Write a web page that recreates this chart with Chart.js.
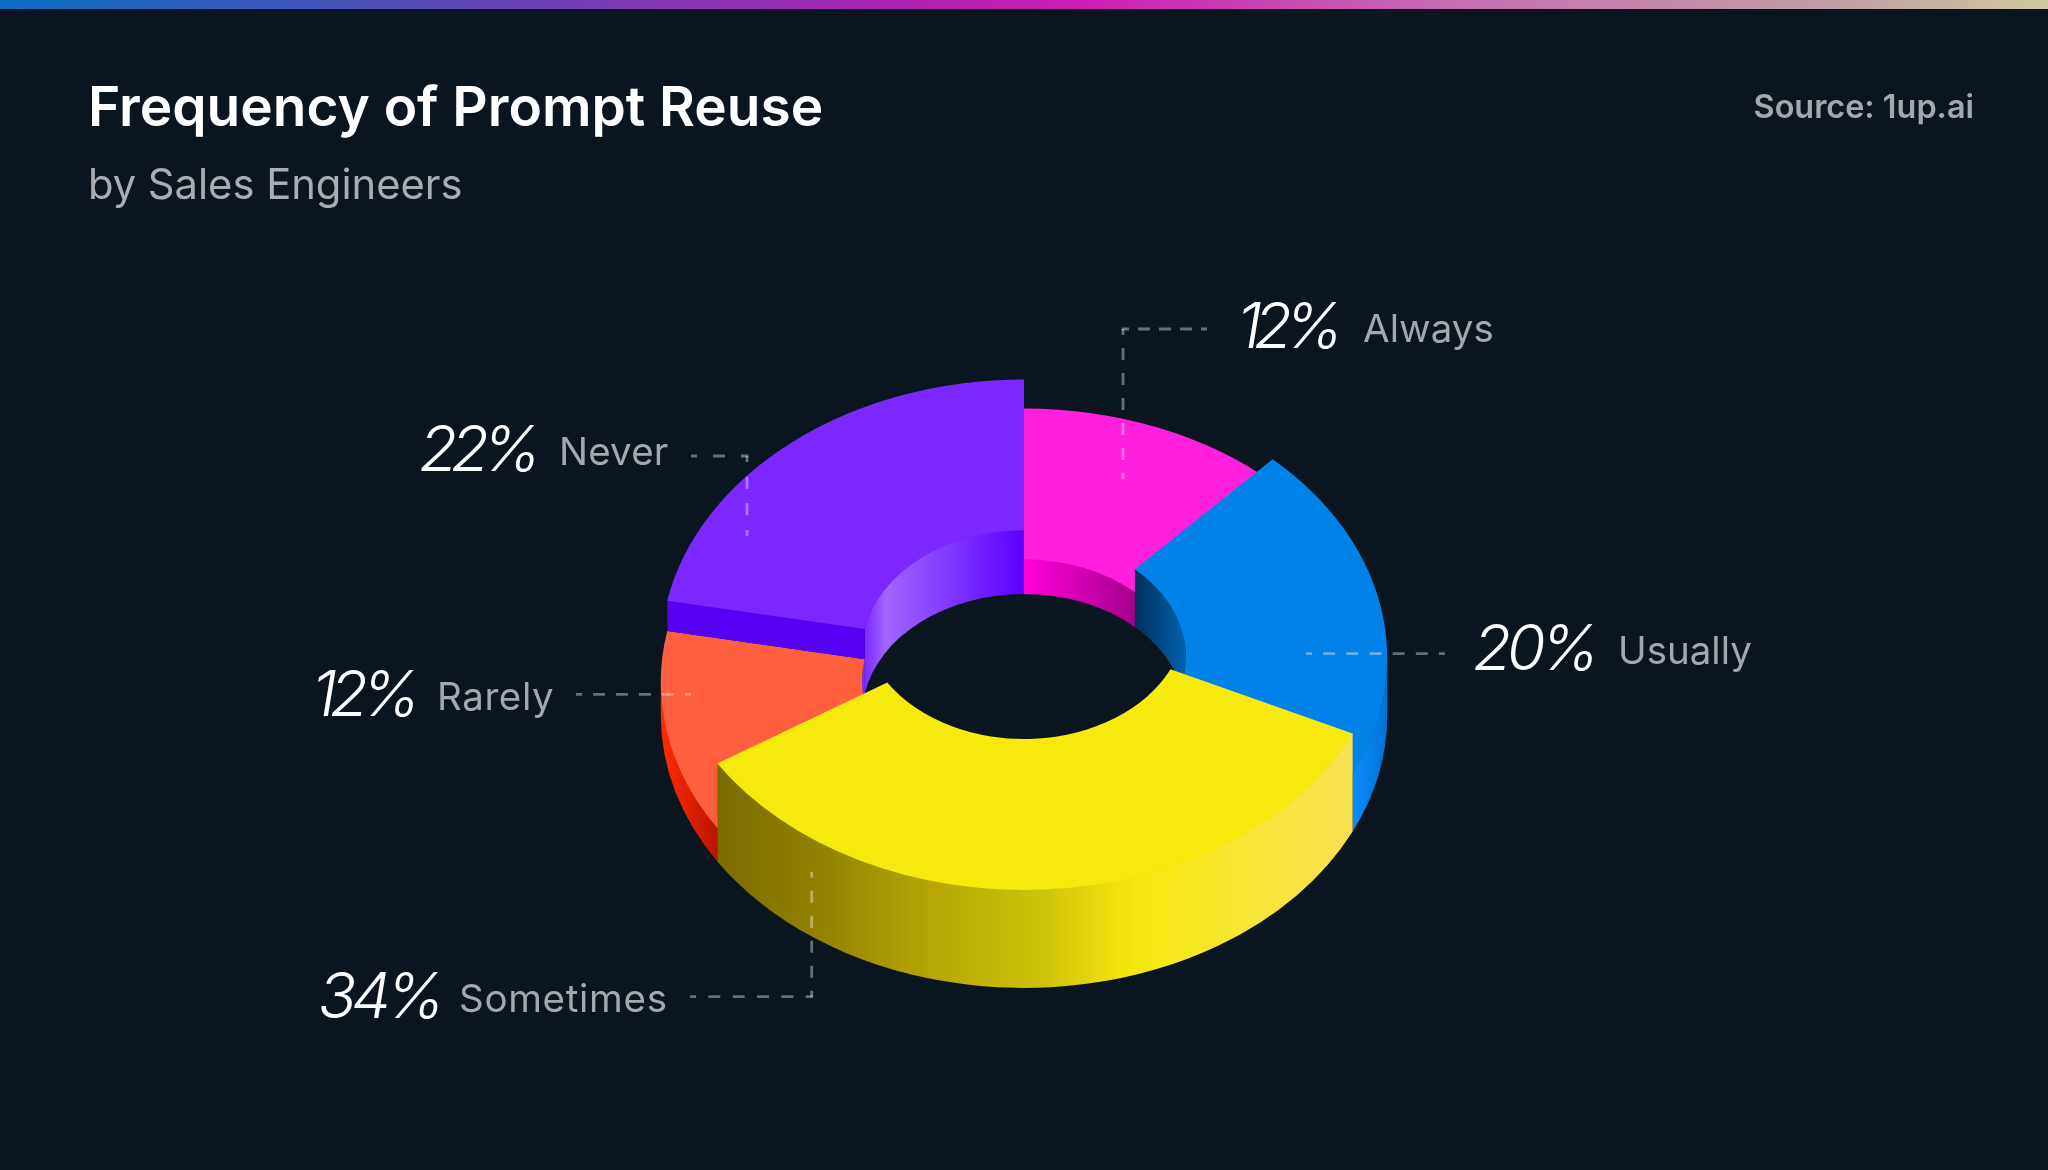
<!DOCTYPE html>
<html><head><meta charset="utf-8">
<style>html,body{margin:0;padding:0;background:#0a1520;width:2048px;height:1170px;overflow:hidden}#w{position:absolute;left:0;top:0;width:2048px;height:1170px}canvas{display:block}</style>
<script src="https://cdn.jsdelivr.net/npm/chart.js@4"></script>
</head><body><div id="w"><canvas id="c" width="2048" height="1170" style="width:2048px;height:1170px"></canvas></div>
<script>
const categories = ["Always","Usually","Sometimes","Rarely","Never"];
const shares = [12,20,34,12,22];
const titleText = "Frequency of Prompt Reuse";
const subtitleText = "by Sales Engineers";
const sourceText = "Source: 1up.ai";

const FONT = 'Inter, Lato, sans-serif';
const TILT = 0.75;
const sliceStyle = [
 {top:"#ff1fdc", lift:34.7, inner:[[0.5,"#ff00d8"],[0.655,"#a3008a"]], outer:[[0,"#f00"]], side:"#a3008a"},
 {top:"#0082e8", lift:57.7, inner:[[0.654,"#00305f"],[0.725,"#0064ae"]], outer:[[0.95,"#0a8cff"],[1,"#0074d6"]], side:"#005090"},
 {top:"#f5e90e", lift:98, inner:[[0,"#000"]], outer:[[0.08,"#7a6c00"],[0.22,"#918200"],[0.37,"#b5a605"],[0.53,"#cfc30a"],[0.63,"#f0e30e"],[0.66,"#f5e90e"],[0.81,"#f7e538"],[0.95,"#f8e150"]], side:"#7a6c00"},
 {top:"#ff5e3f", lift:33.4, inner:[[0,"#7a28ff"]], outer:[[0,"#ff2c00"],[0.08,"#b81500"]], side:"#b81500"},
 {top:"#7a28ff", lift:63.7, inner:[[0.28,"#7a28ff"],[0.31,"#a066ff"],[0.5,"#5a00ff"]], outer:[[0,"#5500f0"]], side:"#5500f0"}
];
const calloutStyle = [
 {numX:1237,track:-8,labelX:1363,labelTrack:0.1,base:342,path:[[1207,329],[1123,329],[1123,479]],periods:[4,6]},
 {numX:1473,track:-5,labelX:1618,labelTrack:0,base:664,path:[[1445,653.7],[1306,653.7]],periods:[6]},
 {numX:318,track:-5,labelX:459,labelTrack:0.7,base:1012,path:[[690,996.7],[811.7,996.7],[811.7,871.7]],periods:[5,5]},
 {numX:312,track:-7,labelX:437,labelTrack:0.6,base:710,path:[[576,694.3],[691,694.3]],periods:[5]},
 {numX:419,track:-7,labelX:559,labelTrack:0.2,base:465,path:[[691,456],[747,456],[747,536]],periods:[2,3]}
];

class Doughnut3D extends Chart.DoughnutController {
  draw(){
    const ctx=this.chart.ctx, arcs=this._cachedMeta.data, n=arcs.length;
    const order=arcs.map((_,i)=>i).sort((a,b)=>sliceStyle[a].lift-sliceStyle[b].lift);
    order.forEach(i=>this.drawSlice(ctx,arcs[i],sliceStyle[i],sliceStyle[(i+n-1)%n].lift,sliceStyle[(i+1)%n].lift));
  }
  grad(ctx,arc,stops){
    const R=arc.outerRadius, g=ctx.createLinearGradient(arc.x-R,0,arc.x+R,0);
    stops.forEach(s=>g.addColorStop(s[0],s[1])); return g;
  }
  wall(ctx,arc,r,a0,a1,h,fill){
    if(a1<=a0) return;
    const k=TILT;
    ctx.beginPath();
    ctx.ellipse(arc.x,arc.y-h-0.8,r,k*r,0,a0,a1,false);
    ctx.ellipse(arc.x,arc.y,r,k*r,0,a1,a0,true);
    ctx.closePath(); ctx.fillStyle=fill; ctx.fill();
  }
  drawSlice(ctx,arc,st,prevLift,nextLift){
    const a0=arc.startAngle,a1=arc.endAngle,h=st.lift,PI=Math.PI,k=TILT;
    const spans=[[-PI,0],[PI,2*PI]];
    spans.forEach(s=>this.wall(ctx,arc,arc.innerRadius,Math.max(a0,s[0]),Math.min(a1,s[1]),h,this.grad(ctx,arc,st.inner)));
    this.wall(ctx,arc,arc.outerRadius,Math.max(a0,0),Math.min(a1,PI),h,this.grad(ctx,arc,st.outer));
    const face=(a,low)=>{
      if(low>=h) return;
      const c=Math.cos(a),s=Math.sin(a),ri=arc.innerRadius,ro=arc.outerRadius,x=arc.x,y=arc.y;
      ctx.beginPath();
      ctx.moveTo(x+ri*c,y+k*ri*s-h-0.8);ctx.lineTo(x+ro*c,y+k*ro*s-h-0.8);
      ctx.lineTo(x+ro*c,y+k*ro*s-low);ctx.lineTo(x+ri*c,y+k*ri*s-low);ctx.closePath();
      ctx.fillStyle=st.side;ctx.fill();
    };
    if(Math.cos(a0)<0) face(a0,prevLift);
    if(Math.cos(a1)>0) face(a1,nextLift);
    ctx.save();
    ctx.translate(arc.x,arc.y-h);ctx.scale(1,k);ctx.translate(-arc.x,-arc.y);
    arc.draw(ctx);
    ctx.restore();
  }
}
Doughnut3D.id="doughnut3d";
Doughnut3D.defaults=Chart.DoughnutController.defaults;
Chart.register(Doughnut3D);

const paintPlugin={
  id:"paint",
  beforeDraw(chart){
    const ctx=chart.ctx;
    ctx.save();
    ctx.fillStyle="#0a1520";ctx.fillRect(0,0,2048,1170);
    const g=ctx.createLinearGradient(0,0,2048,0);
    g.addColorStop(0,"#0a6dc2");g.addColorStop(0.44,"#ad22b0");g.addColorStop(0.53,"#cc1db5");g.addColorStop(0.72,"#c772b0");g.addColorStop(0.9,"#bfa0a5");g.addColorStop(1,"#cfc8a0");
    ctx.fillStyle=g;ctx.fillRect(0,0,2048,9);
    ctx.textBaseline="alphabetic";
    ctx.textAlign="left";
    ctx.fillStyle="#ffffff";ctx.font="600 55px "+FONT;ctx.fillText(titleText,88,126);
    ctx.fillStyle="#a9adb2";ctx.font="400 41.7px "+FONT;ctx.fillText(subtitleText,88,199);
    ctx.textAlign="right";
    ctx.fillStyle="#a3a8ad";ctx.font="600 32.4px "+FONT;ctx.fillText(sourceText,1974,118);
    ctx.restore();
  },
  afterDatasetsDraw(chart){
    const ctx=chart.ctx;
    ctx.save();
    ctx.lineWidth=2.8;ctx.strokeStyle="rgba(255,255,255,0.38)";
    calloutStyle.forEach((c,i)=>{
      for(let j=0;j<c.periods.length;j++){
        const p=c.path[j],q=c.path[j+1],L=Math.hypot(q[0]-p[0],q[1]-p[1]),per=L/c.periods[j];
        const more=j<c.periods.length-1?1.4:0,ux=(q[0]-p[0])/L,uy=(q[1]-p[1])/L;
        ctx.setLineDash([12,per-12]);ctx.lineDashOffset=6;
        ctx.beginPath();ctx.moveTo(p[0],p[1]);ctx.lineTo(q[0]+ux*more,q[1]+uy*more);ctx.stroke();
      }
      ctx.setLineDash([]);
      ctx.textAlign="left";ctx.textBaseline="alphabetic";
      ctx.fillStyle="#ffffff";ctx.font="italic 300 63px "+FONT;ctx.letterSpacing=c.track+"px";ctx.fillText(shares[i]+"%",c.numX,c.base+6);
      ctx.letterSpacing=c.labelTrack+"px";
      ctx.fillStyle="#a3a8ad";ctx.font="400 38.5px "+FONT;ctx.fillText(categories[i],c.labelX,c.base);
      ctx.letterSpacing="0px";
    });
    ctx.restore();
  }
};

new Chart(document.getElementById("c"),{
  type:"doughnut3d",
  data:{labels:categories,datasets:[{data:shares,backgroundColor:sliceStyle.map(s=>s.top),borderWidth:0,radius:363.2,cutout:"44.6%"}]},
  options:{
    responsive:false,animation:false,events:[],
    devicePixelRatio:1,
    layout:{padding:{top:261,bottom:0,left:0,right:0}},
    plugins:{legend:{display:false},tooltip:{enabled:false}}
  },
  plugins:[paintPlugin]
});
</script></body></html>
